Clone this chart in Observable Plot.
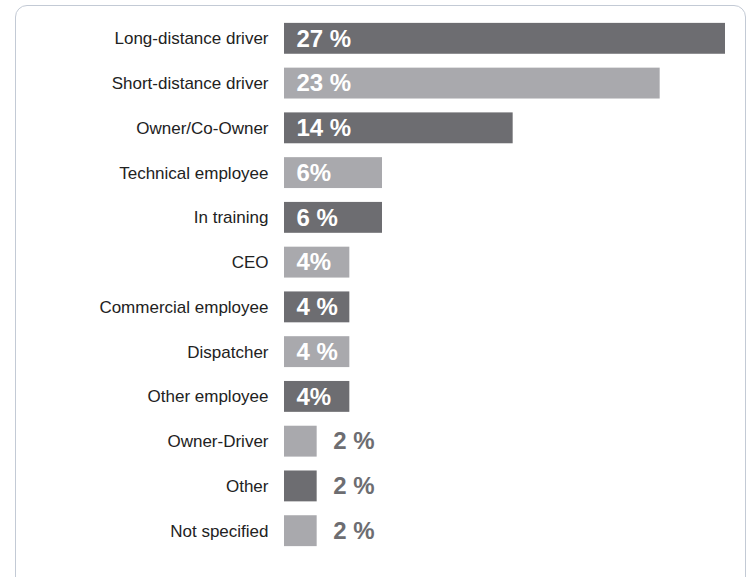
<!DOCTYPE html>
<html>
<head>
<meta charset="utf-8">
<script src="https://cdn.jsdelivr.net/npm/d3@7"></script>
<script src="https://cdn.jsdelivr.net/npm/@observablehq/plot@0.6"></script>
<style>
  html, body { margin: 0; padding: 0; background: #fff; overflow: hidden; }
  #wrap { position: relative; width: 747px; height: 577px; overflow: hidden; }
  #border { position: absolute; left: 15px; top: 5px; width: 731px; height: 600px; box-sizing: border-box;
            border: 1.5px solid #c3cad5; border-radius: 12px; pointer-events: none; }
  #chart { position: absolute; left: 0; top: 0; }
</style>
</head>
<body>
<div id="wrap"><div id="chart"></div><div id="border"></div></div>
<script>
const categories = ["Long-distance driver", "Short-distance driver", "Owner/Co-Owner", "Technical employee", "In training", "CEO", "Commercial employee", "Dispatcher", "Other employee", "Owner-Driver", "Other", "Not specified"];
const values = [27, 23, 14, 6, 6, 4, 4, 4, 4, 2, 2, 2];
const valueLabels = ["27 %", "23 %", "14 %", "6%", "6 %", "4%", "4 %", "4 %", "4%", "2 %", "2 %", "2 %"];

const dark = "#6d6d71";
const light = "#a9a9ad";
const data = categories.map((c, i) => ({cat: c, value: values[i], label: valueLabels[i], idx: i}));
const inside = data.filter(d => d.value > 3);
const outside = data.filter(d => d.value <= 3);

const chart = Plot.plot({
  width: 747,
  height: 577,
  marginLeft: 284,
  marginRight: 22,
  marginTop: 9,
  marginBottom: 17,
  style: {fontFamily: "'Liberation Sans', Arial, sans-serif", fontSize: "17px", color: "#222", background: "transparent"},
  x: {domain: [0, 27], axis: null},
  y: {domain: categories, padding: 0.31, round: false, label: null},
  color: {type: "identity"},
  marks: [
    Plot.axisY({tickSize: 0, tickPadding: 16, fontSize: 17, label: null}),
    Plot.barX(data, {x: "value", y: "cat", fill: d => d.idx % 2 === 0 ? dark : light}),
    Plot.text(inside, {x: 0, y: "cat", text: "label", dx: 12, textAnchor: "start", fill: "white", fontWeight: "bold", fontSize: 24}),
    Plot.text(outside, {x: "value", y: "cat", text: "label", dx: 16, textAnchor: "start", fill: dark, fontWeight: "bold", fontSize: 24})
  ]
});
document.getElementById("chart").appendChild(chart);
</script>
</body>
</html>
